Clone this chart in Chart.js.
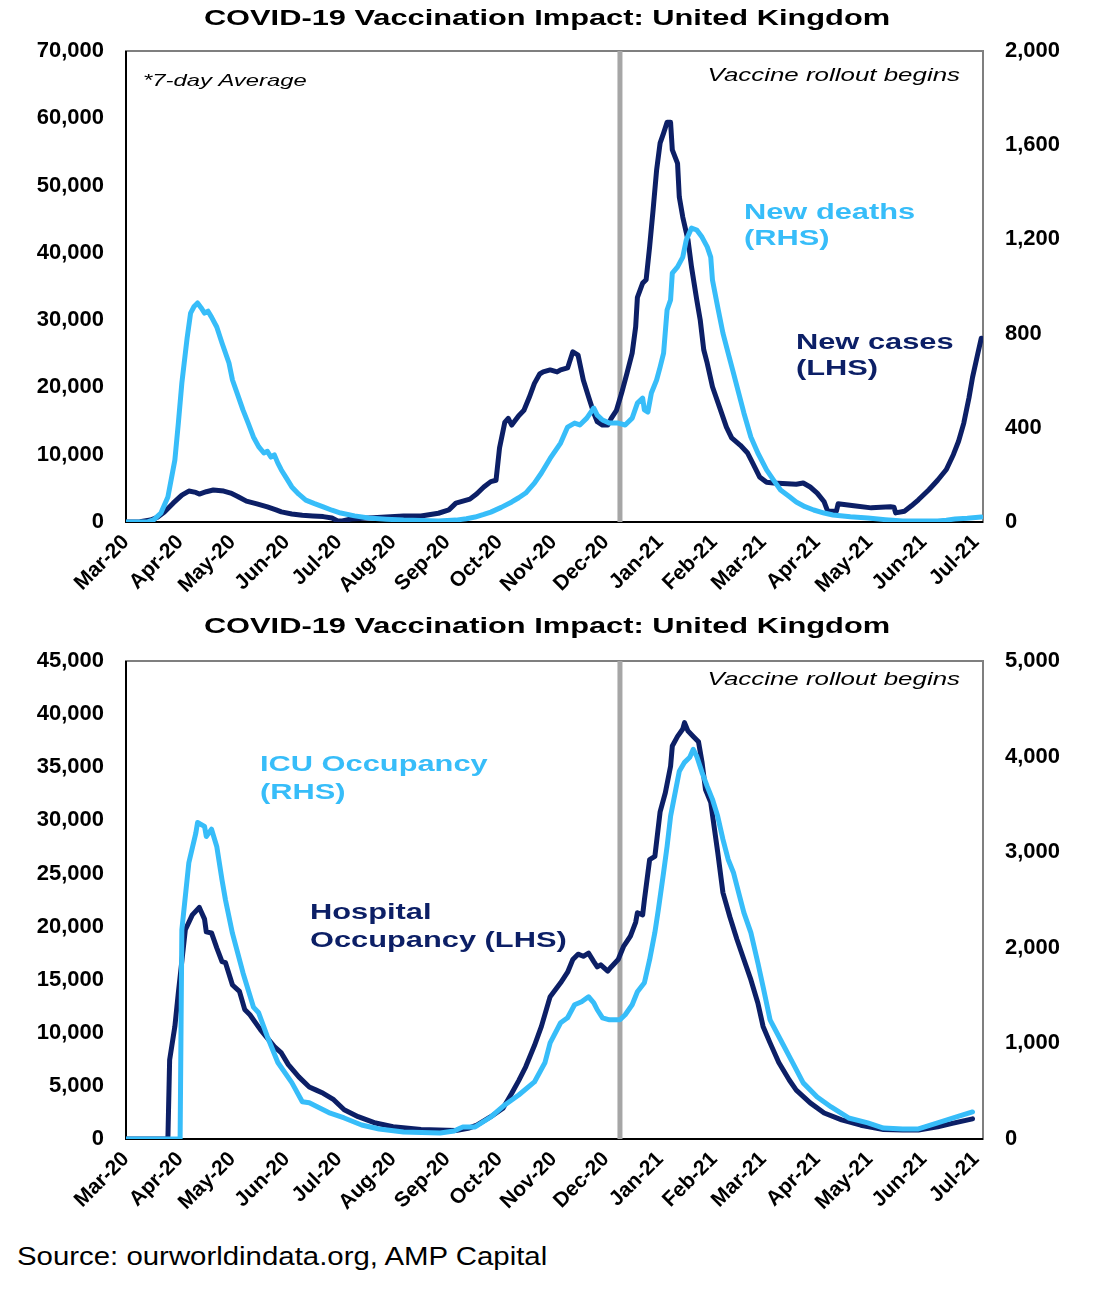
<!DOCTYPE html>
<html lang="en">
<head>
<meta charset="UTF-8">
<title>COVID-19 Vaccination Impact: United Kingdom</title>
<script src="https://cdn.jsdelivr.net/npm/chart.js"></script>
<style>
    body { margin: 0; background: #fff; width: 1098px; height: 1289px; position: relative; overflow: hidden;
           font-family: 'Liberation Sans', Arial, sans-serif; }
    canvas { position: absolute; left: 0; }
    #casesChart { top: 0; }
    #hospChart { top: 605px; }
    .source { position: absolute; left: 17px; top: 1240px; font-size: 26px; line-height: 32px;
              transform: scaleX(1.13); transform-origin: left; white-space: nowrap; color: #000; }
</style>
</head>
<body>
<canvas id="casesChart" width="1098" height="600"></canvas>
<canvas id="hospChart" width="1098" height="612"></canvas>
<div class="source">Source: ourworldindata.org, AMP Capital</div>

<script>
// x values are days counted from 1 March 2020
const monthStarts = [0, 31, 61, 92, 122, 153, 184, 214, 245, 275, 306, 337, 365, 396, 426, 457, 487];
const monthLabels = ['Mar-20', 'Apr-20', 'May-20', 'Jun-20', 'Jul-20', 'Aug-20', 'Sep-20', 'Oct-20',
                     'Nov-20', 'Dec-20', 'Jan-21', 'Feb-21', 'Mar-21', 'Apr-21', 'May-21', 'Jun-21', 'Jul-21'];
const lastDay = 491;
const vaccineStart = 283;

// new cases, 7-day average (LHS)
const caseDays = [0, 8, 14, 18, 22, 27, 32, 36, 40, 42, 46, 50, 56, 60, 64, 69, 75, 81, 86, 89, 95, 101, 107, 113,
    118, 121, 124, 129, 139, 149, 159, 169, 179, 185, 189, 197, 201, 205, 209, 212, 214, 217, 219, 221, 225, 228,
    231, 234, 237, 239, 243, 247, 249, 253, 256, 259, 262, 265, 268, 270, 273, 276, 278, 281, 284, 287, 290, 292,
    293, 296, 298, 300, 302, 304, 306, 308, 310, 312, 313, 316, 317, 319, 322, 324, 327, 329, 331, 333, 336, 340,
    344, 347, 352, 356, 359, 363, 367, 371, 384, 388, 392, 396, 400, 402, 407, 408, 417, 427, 438, 440, 441, 446,
    450, 454, 460, 465, 470, 474, 477, 480, 483, 485, 488, 490];
const caseValues = [0, 50, 300, 700, 1500, 2800, 4000, 4600, 4400, 4150, 4500, 4750, 4600, 4300, 3800, 3100, 2700,
    2250, 1800, 1500, 1200, 1000, 900, 800, 600, 200, 150, 450, 600, 750, 900, 900, 1300, 1800, 2800, 3400, 4200,
    5200, 6000, 6200, 11000, 14800, 15400, 14400, 15800, 16600, 18500, 20600, 22000, 22300, 22600, 22300, 22600,
    22900, 25300, 24800, 21100, 18600, 16200, 14900, 14400, 14400, 15400, 16600, 19200, 22100, 25100, 29000, 33400,
    35500, 36000, 40900, 46400, 52300, 56300, 57800, 59400, 59400, 55300, 53300, 48300, 45300, 41900, 37900, 33000,
    30000, 25600, 23600, 20100, 17100, 14100, 12500, 11400, 10300, 8800, 6700, 5900, 5800, 5600, 5800, 5200, 4300,
    3000, 1600, 1600, 2700, 2400, 2100, 2250, 2200, 1350, 1600, 2400, 3300, 4800, 6200, 7800, 10000, 12000, 14700,
    18500, 21500, 25000, 27300];

// new deaths, 7-day average (RHS)
const deathDays = [0, 12, 16, 20, 24, 28, 30, 32, 35, 37, 39, 41, 43, 45, 47, 49, 52, 55, 59, 61, 64, 67, 70, 73,
    76, 79, 81, 83, 85, 87, 89, 92, 95, 99, 103, 108, 113, 118, 123, 131, 139, 149, 159, 169, 179, 189, 195, 200,
    205, 209, 215, 221, 225, 229, 234, 238, 243, 249, 253, 257, 260, 264, 268, 270, 273, 277, 282, 286, 290, 293,
    296, 297, 299, 301, 304, 306, 308, 310, 312, 313, 316, 319, 321, 324, 327, 330, 333, 335, 336, 339, 342, 345,
    348, 351, 354, 358, 362, 367, 371, 375, 380, 384, 389, 394, 400, 405, 415, 425, 435, 445, 455, 465, 470, 475,
    482, 490];
const deathValues = [0, 0, 10, 38, 106, 263, 420, 590, 780, 887, 915, 930, 910, 887, 895, 870, 828, 760, 675, 603,
    540, 476, 420, 361, 320, 293, 300, 276, 285, 250, 221, 185, 149, 118, 93, 78, 64, 50, 38, 26, 17, 12, 8, 6, 4,
    8, 14, 21, 32, 42, 62, 85, 103, 123, 165, 208, 270, 335, 403, 420, 412, 441, 484, 454, 433, 420, 420, 412, 441,
    505, 526, 476, 467, 548, 603, 658, 717, 900, 943, 1057, 1083, 1125, 1197, 1248, 1240, 1210, 1168, 1125, 1028,
    913, 802, 717, 633, 548, 463, 361, 293, 221, 178, 136, 108, 85, 65, 51, 38, 30, 22, 17, 10, 4, 4, 4, 8, 13, 16, 21];

// hospital occupancy (LHS)
const hospDays = [0, 24, 25, 28, 30, 34, 38, 42, 45, 46, 49, 52, 55, 57, 61, 65, 68, 71, 77, 81, 85, 89, 93, 99,
    105, 109, 113, 119, 125, 133, 143, 153, 169, 189, 196, 201, 209, 216, 221, 225, 229, 234, 238, 243, 249, 253,
    256, 259, 262, 265, 268, 270, 272, 276, 278, 282, 285, 289, 292, 293, 296, 297, 300, 303, 306, 309, 312, 313,
    316, 319, 320, 322, 325, 328, 330, 332, 335, 339, 342, 346, 350, 354, 358, 362, 365, 369, 374, 380, 384, 392,
    400, 410, 421, 434, 445, 454, 465, 474, 485];
const hospValues = [0, 0, 7450, 10600, 13800, 19700, 21100, 21800, 20700, 19500, 19400, 18000, 16700, 16600, 14500,
    13900, 12200, 11700, 10300, 9500, 8700, 8100, 7000, 5850, 4900, 4600, 4300, 3700, 2750, 2100, 1500, 1150, 900,
    800, 1000, 1300, 2100, 2900, 4300, 5500, 6800, 8800, 10600, 13400, 14700, 15700, 16900, 17400, 17200, 17500,
    16700, 16200, 16400, 15800, 16200, 16900, 18100, 19100, 20400, 21300, 21100, 22500, 26300, 26600, 30800, 32600,
    35100, 37000, 37900, 38600, 39200, 38400, 37900, 37400, 35500, 32900, 31700, 27000, 23200, 20900, 18800, 16900,
    15000, 12800, 10600, 9050, 7200, 5550, 4600, 3400, 2450, 1800, 1300, 900, 850, 850, 1150, 1500, 1900];

// ICU occupancy (RHS)
const icuDays = [0, 31, 32, 36, 40, 41, 43, 45, 46, 49, 52, 55, 57, 61, 67, 73, 76, 81, 87, 95, 101, 105, 111, 117,
    125, 135, 145, 159, 180, 188, 191, 193, 200, 209, 217, 225, 234, 240, 243, 249, 253, 257, 261, 265, 268, 270,
    273, 277, 283, 286, 290, 293, 297, 300, 303, 305, 308, 310, 312, 315, 317, 320, 323, 325, 327, 330, 333, 336,
    339, 342, 345, 348, 351, 354, 358, 362, 365, 369, 375, 382, 388, 396, 404, 414, 425, 434, 445, 454, 465, 474, 485];
const icuValues = [0, 0, 2190, 2890, 3200, 3310, 3290, 3270, 3165, 3240, 3060, 2710, 2500, 2150, 1740, 1380, 1320,
    1070, 800, 590, 390, 380, 325, 270, 220, 147, 105, 73, 63, 84, 110, 126, 126, 230, 356, 460, 597, 797, 1006,
    1216, 1268, 1404, 1436, 1488, 1425, 1352, 1268, 1247, 1247, 1300, 1404, 1540, 1635, 1876, 2159, 2400, 2788,
    3060, 3375, 3658, 3846, 3940, 3993, 4077, 4003, 3836, 3689, 3553, 3375, 3134, 2924, 2788, 2578, 2368, 2159,
    1844, 1593, 1247, 1038, 797, 587, 440, 335, 220, 168, 115, 105, 105, 168, 220, 283];

const NAVY = '#0c1f66';
const SKY = '#37bdf9';
const GREY = '#a6a6a6';
const FONT = "'Liberation Sans', Arial, sans-serif";

function points(days, values) {
    return days.map((d, i) => ({ x: d, y: values[i] }));
}

// draws text stretched sideways, the source uses wide lettering
function wideText(ctx, t) {
    ctx.save();
    ctx.font = t.font;
    ctx.fillStyle = t.color;
    ctx.textBaseline = 'middle';
    ctx.textAlign = 'left';
    const w = ctx.measureText(t.text).width * t.sx;
    let left = t.x;
    if (t.align === 'center') left = t.x - w / 2;
    if (t.align === 'right') left = t.x - w;
    ctx.translate(left, t.y);
    ctx.scale(t.sx, 1);
    ctx.fillText(t.text, 0, 0);
    ctx.restore();
}

const frame = {
    id: 'frame',
    beforeDatasetsDraw(chart) {
        const { ctx, chartArea: a } = chart;
        ctx.save();
        ctx.strokeStyle = '#7f7f7f';
        ctx.lineWidth = 2;
        ctx.strokeRect(a.left, a.top, a.right - a.left, a.bottom - a.top);
        ctx.strokeStyle = '#000';
        ctx.beginPath();
        ctx.moveTo(a.left, a.top);
        ctx.lineTo(a.left, a.bottom);
        ctx.lineTo(a.right, a.bottom);
        ctx.stroke();
        ctx.restore();
    }
};

function notes(items) {
    return {
        id: 'notes',
        afterDraw(chart) {
            items.forEach(t => wideText(chart.ctx, t));
        }
    };
}

function lineSet(data, color, axis, order) {
    return {
        data: data,
        borderColor: color,
        borderWidth: 5,
        pointRadius: 0,
        borderJoinStyle: 'round',
        borderCapStyle: 'round',
        tension: 0,
        yAxisID: axis,
        order: order
    };
}

function makeChart(id, opts) {
    const tickFont = { family: FONT, size: 22, weight: 'bold' };
    return new Chart(document.getElementById(id), {
        type: 'line',
        data: {
            datasets: [
                {
                    data: [{ x: vaccineStart, y: 0 }, { x: vaccineStart, y: opts.leftMax }],
                    borderColor: GREY, borderWidth: 5, pointRadius: 0, yAxisID: 'y', order: 3
                },
                lineSet(opts.left, NAVY, 'y', 2),
                lineSet(opts.right, SKY, 'y1', 1)
            ]
        },
        options: {
            responsive: false,
            animation: false,
            layout: { padding: { top: opts.top, left: 0, right: 0, bottom: 0 } },
            plugins: { legend: { display: false }, tooltip: { enabled: false } },
            scales: {
                x: {
                    type: 'linear', min: 0, max: lastDay,
                    grid: { display: false, drawTicks: false },
                    border: { display: false },
                    afterBuildTicks: s => { s.ticks = monthStarts.map(v => ({ value: v })); },
                    afterFit: s => { s.height = 78; },
                    ticks: {
                        autoSkip: false, minRotation: 45, maxRotation: 45, padding: 8,
                        color: '#000', font: { family: FONT, size: 21, weight: 'bold' },
                        callback: v => monthLabels[monthStarts.indexOf(v)] || ''
                    }
                },
                y: {
                    position: 'left', min: 0, max: opts.leftMax,
                    grid: { display: false, drawTicks: false },
                    border: { display: false },
                    afterFit: s => { s.width = 126; },
                    ticks: { stepSize: opts.leftStep, padding: 22, color: '#000', font: tickFont,
                             callback: v => v.toLocaleString('en-US') }
                },
                y1: {
                    position: 'right', min: 0, max: opts.rightMax,
                    grid: { display: false, drawTicks: false },
                    border: { display: false },
                    afterFit: s => { s.width = 115; },
                    ticks: { stepSize: opts.rightStep, padding: 22, color: '#000', font: tickFont,
                             callback: v => v.toLocaleString('en-US') }
                }
            }
        },
        plugins: [frame, notes(opts.notes)]
    });
}

const titleText = 'COVID-19 Vaccination Impact: United Kingdom';
const bold22 = 'bold 22px ' + FONT;
const italic17 = 'italic 17px ' + FONT;
const italic18 = 'italic 18.5px ' + FONT;

makeChart('casesChart', {
    left: points(caseDays, caseValues),
    right: points(deathDays, deathValues),
    leftMax: 70000, leftStep: 10000,
    rightMax: 2000, rightStep: 400,
    top: 51,
    notes: [
        { text: titleText, x: 547, y: 19, font: bold22, color: '#000', align: 'center', sx: 1.4 },
        { text: '*7-day Average', x: 143, y: 81, font: italic17, color: '#000', align: 'left', sx: 1.4 },
        { text: 'Vaccine rollout begins', x: 960, y: 76, font: italic18, color: '#000', align: 'right', sx: 1.4 },
        { text: 'New deaths', x: 744, y: 213, font: bold22, color: SKY, align: 'left', sx: 1.4 },
        { text: '(RHS)', x: 744, y: 239, font: bold22, color: SKY, align: 'left', sx: 1.4 },
        { text: 'New cases', x: 796, y: 343, font: bold22, color: NAVY, align: 'left', sx: 1.4 },
        { text: '(LHS)', x: 796, y: 369, font: bold22, color: NAVY, align: 'left', sx: 1.4 }
    ]
});

makeChart('hospChart', {
    left: points(hospDays, hospValues),
    right: points(icuDays, icuValues),
    leftMax: 45000, leftStep: 5000,
    rightMax: 5000, rightStep: 1000,
    top: 56,
    notes: [
        { text: titleText, x: 547, y: 22, font: bold22, color: '#000', align: 'center', sx: 1.4 },
        { text: 'Vaccine rollout begins', x: 960, y: 75, font: italic18, color: '#000', align: 'right', sx: 1.4 },
        { text: 'ICU Occupancy', x: 260, y: 160, font: bold22, color: SKY, align: 'left', sx: 1.4 },
        { text: '(RHS)', x: 260, y: 188, font: bold22, color: SKY, align: 'left', sx: 1.4 },
        { text: 'Hospital', x: 310, y: 308, font: bold22, color: NAVY, align: 'left', sx: 1.4 },
        { text: 'Occupancy (LHS)', x: 310, y: 336, font: bold22, color: NAVY, align: 'left', sx: 1.4 }
    ]
});
</script>
</body>
</html>
